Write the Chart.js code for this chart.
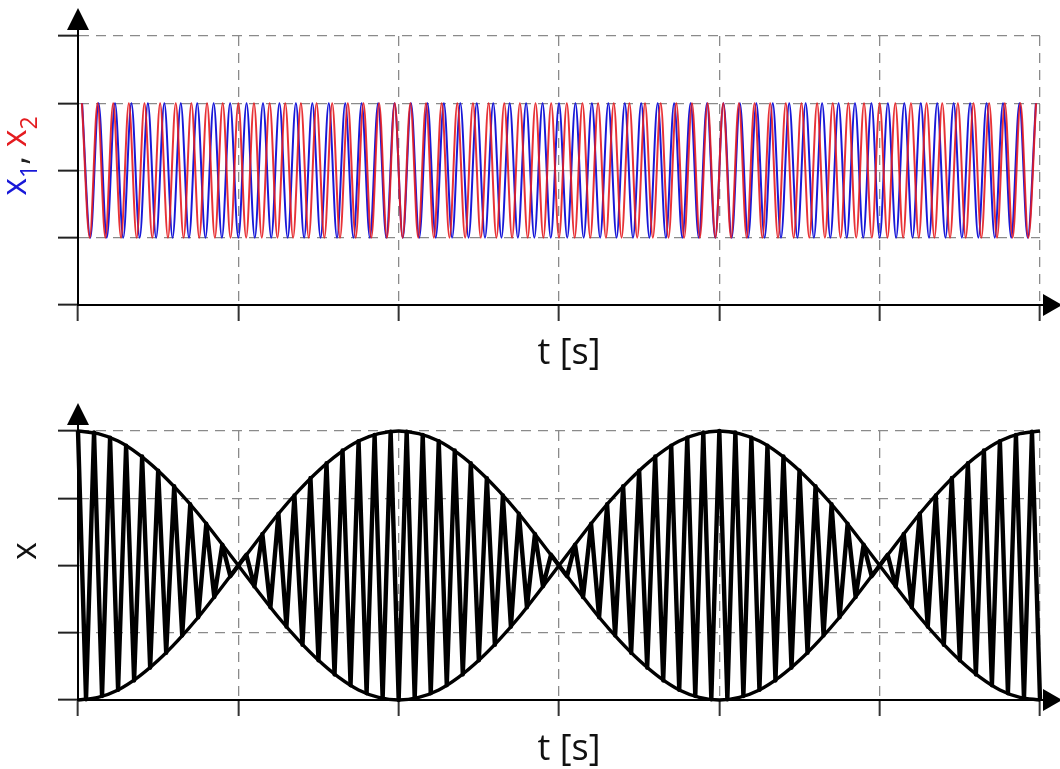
<!DOCTYPE html>
<html>
<head>
<meta charset="utf-8">
<script src="https://cdn.jsdelivr.net/npm/chart.js@4.4.1/dist/chart.umd.min.js"></script>
<style>
  html, body { margin: 0; padding: 0; background: #fff; }
  .panel { position: absolute; left: 0; width: 1060px; }
  #topPanel { top: 0; height: 385px; }
  #bottomPanel { top: 385px; height: 384px; }
</style>
</head>
<body>
<div class="panel" id="topPanel"><canvas id="sigChart"></canvas></div>
<div class="panel" id="bottomPanel"><canvas id="beatChart"></canvas></div>
<script>
// time axis and amplitude grid
const tRange = [0, 6];
const tTicks = [0, 1, 2, 3, 4, 5, 6];
const yTicks = [-2, -1, 0, 1, 2];

// x1 (blue): crest/trough values, one per half period, evenly spread over the time range
const x1Extrema = [
  1,-1,1,-1,1,-1,1,-1,1,-1,1,-1,1,-1,1,-1,1,-1,1,-1,
  1,-1,1,-1,1,-1,1,-1,1,-1,1,-1,1,-1,1,-1,1,-1,1,-1,
  1,-1,1,-1,1,-1,1,-1,1,-1,1,-1,1,-1,1,-1,1,-1,1,-1,
  1,-1,1,-1,1,-1,1,-1,1,-1,1,-1,1,-1,1,-1,1,-1,1,-1,
  1,-1,1,-1,1,-1,1,-1,1,-1,1,-1,1,-1,1,-1,1,-1,1,-1,
  1,-1,1,-1,1,-1,1,-1,1,-1,1,-1,1,-1,1,-1,1
];

// x2 (red): slightly higher frequency, a few more half periods
const x2Extrema = [
  1,-1,1,-1,1,-1,1,-1,1,-1,1,-1,1,-1,1,-1,1,-1,1,-1,
  1,-1,1,-1,1,-1,1,-1,1,-1,1,-1,1,-1,1,-1,1,-1,1,-1,
  1,-1,1,-1,1,-1,1,-1,1,-1,1,-1,1,-1,1,-1,1,-1,1,-1,
  1,-1,1,-1,1,-1,1,-1,1,-1,1,-1,1,-1,1,-1,1,-1,1,-1,
  1,-1,1,-1,1,-1,1,-1,1,-1,1,-1,1,-1,1,-1,1,-1,1,-1,
  1,-1,1,-1,1,-1,1,-1,1,-1,1,-1,1,-1,1,-1,1,-1,1,-1,
  1,-1,1
];

// x = x1 + x2: peaks every 0.05 s
const xSum = [
  2.00,-1.99,1.98,-1.94,1.90,-1.85,1.78,-1.71,1.62,-1.52,1.41,-1.30,1.18,-1.04,0.91,-0.77,0.62,-0.47,0.31,-0.16,0,
  0.16,-0.31,0.47,-0.62,0.77,-0.91,1.04,-1.18,1.30,-1.41,1.52,-1.62,1.71,-1.78,1.85,-1.90,1.94,-1.98,1.99,-2.00,
  1.99,-1.98,1.94,-1.90,1.85,-1.78,1.71,-1.62,1.52,-1.41,1.30,-1.18,1.04,-0.91,0.77,-0.62,0.47,-0.31,0.16,0,
  -0.16,0.31,-0.47,0.62,-0.77,0.91,-1.04,1.18,-1.30,1.41,-1.52,1.62,-1.71,1.78,-1.85,1.90,-1.94,1.98,-1.99,2.00,
  -1.99,1.98,-1.94,1.90,-1.85,1.78,-1.71,1.62,-1.52,1.41,-1.30,1.18,-1.04,0.91,-0.77,0.62,-0.47,0.31,-0.16,0,
  0.16,-0.31,0.47,-0.62,0.77,-0.91,1.04,-1.18,1.30,-1.41,1.52,-1.62,1.71,-1.78,1.85,-1.90,1.94,-1.98,1.99,-2.00
];

// beat envelope, every 0.125 s
const envUpper = [
  2.00,1.96,1.85,1.66,1.41,1.11,0.77,0.39,0,
  -0.39,-0.77,-1.11,-1.41,-1.66,-1.85,-1.96,-2.00,
  -1.96,-1.85,-1.66,-1.41,-1.11,-0.77,-0.39,0,
  0.39,0.77,1.11,1.41,1.66,1.85,1.96,2.00,
  1.96,1.85,1.66,1.41,1.11,0.77,0.39,0,
  -0.39,-0.77,-1.11,-1.41,-1.66,-1.85,-1.96,-2.00
];
const envLower = [
  -2.00,-1.96,-1.85,-1.66,-1.41,-1.11,-0.77,-0.39,0,
  0.39,0.77,1.11,1.41,1.66,1.85,1.96,2.00,
  1.96,1.85,1.66,1.41,1.11,0.77,0.39,0,
  -0.39,-0.77,-1.11,-1.41,-1.66,-1.85,-1.96,-2.00,
  -1.96,-1.85,-1.66,-1.41,-1.11,-0.77,-0.39,0,
  0.39,0.77,1.11,1.41,1.66,1.85,1.96,2.00
];

const BLUE = '#1818d8';
const RED = 'rgba(230, 28, 32, 0.9)';
const indexLabels = arr => arr.map((v, i) => i);

// axes, arrowheads and titles drawn on top of the chart
const axisDecor = {
  id: 'axisDecor',
  afterDraw(chart, args, opts) {
    const { ctx, chartArea: a } = chart;
    const x0 = chart.scales.x.getPixelForValue(tRange[0]);
    const yb = chart.scales.y.getPixelForValue(yTicks[0]);
    ctx.save();
    ctx.strokeStyle = '#000';
    ctx.fillStyle = '#000';
    ctx.lineWidth = 2;
    ctx.beginPath();
    ctx.moveTo(x0, a.top);
    ctx.lineTo(x0, a.top - 10);
    ctx.moveTo(a.right, yb);
    ctx.lineTo(a.right + 6, yb);
    ctx.stroke();

    ctx.beginPath();
    ctx.moveTo(x0, a.top - 28);
    ctx.lineTo(x0 - 11, a.top - 6);
    ctx.lineTo(x0 + 11, a.top - 6);
    ctx.closePath();
    ctx.fill();
    ctx.beginPath();
    ctx.moveTo(a.right + 22, yb);
    ctx.lineTo(a.right + 3, yb - 11);
    ctx.lineTo(a.right + 3, yb + 11);
    ctx.closePath();
    ctx.fill();

    ctx.font = '36px "Open Sans"';
    ctx.textAlign = 'center';
    ctx.textBaseline = 'middle';
    ctx.fillStyle = '#111';
    ctx.fillText('t [s]', opts.titleX, opts.titleY);

    // rotated y label, pieces may be subscripts
    ctx.translate(opts.labelX, opts.labelY);
    ctx.rotate(-Math.PI / 2);
    ctx.textAlign = 'left';
    ctx.textBaseline = 'alphabetic';
    const fontFor = p => (p.sub ? '23px' : '34px') + ' "Open Sans"';
    let total = 0;
    opts.label.forEach(p => { ctx.font = fontFor(p); total += ctx.measureText(p.text).width; });
    let cx = -total / 2;
    opts.label.forEach(p => {
      ctx.font = fontFor(p);
      ctx.fillStyle = p.color;
      ctx.fillText(p.text, cx, p.sub ? 11 : 0);
      cx += ctx.measureText(p.text).width;
    });
    ctx.restore();
  }
};

function gridScales(extra) {
  return Object.assign({
    x: {
      type: 'linear', position: 'bottom', min: tRange[0], max: tRange[1],
      afterBuildTicks: s => { s.ticks = tTicks.map(v => ({ value: v })); },
      ticks: { display: false },
      grid: { color: '#8a8a8a', lineWidth: 1.3, tickLength: 16, tickColor: '#333', tickWidth: 2 },
      border: { color: '#000', width: 2, dash: [10, 7] }
    },
    y: {
      type: 'linear', min: yTicks[0], max: yTicks[yTicks.length - 1],
      afterBuildTicks: s => { s.ticks = yTicks.map(v => ({ value: v })); },
      ticks: { display: false },
      grid: {
        color: c => (c.tick && c.tick.value === 0) ? '#a8a8a8' : '#8a8a8a',
        lineWidth: 1.3, tickLength: 20, tickColor: '#222', tickWidth: 2
      },
      border: { color: '#000', width: 2, dash: c => (c.tick && c.tick.value === 0) ? [] : [10, 7] }
    }
  }, extra);
}

const baseOptions = {
  responsive: true,
  maintainAspectRatio: false,
  animation: false,
  events: [],
  elements: { point: { radius: 0 } }
};

// x1 and x2
new Chart(document.getElementById('sigChart'), {
  type: 'line',
  data: {
    datasets: [
      { data: x2Extrema, xAxisID: 'xb', borderColor: RED, borderWidth: 2, cubicInterpolationMode: 'monotone' },
      { data: x1Extrema, xAxisID: 'xa', borderColor: BLUE, borderWidth: 2, cubicInterpolationMode: 'monotone' }
    ]
  },
  options: Object.assign({}, baseOptions, {
    layout: { padding: { top: 36, right: 20, bottom: 64, left: 58 } },
    plugins: {
      legend: { display: false }, tooltip: { enabled: false },
      axisDecor: {
        titleX: 569, titleY: 354, labelX: 26, labelY: 156,
        label: [
          { text: 'x', color: BLUE }, { text: '1', color: BLUE, sub: true },
          { text: ', ', color: '#222' },
          { text: 'x', color: '#e41c20' }, { text: '2', color: '#e41c20', sub: true }
        ]
      }
    },
    scales: gridScales({
      xa: { type: 'category', labels: indexLabels(x1Extrema), offset: true, display: false },
      xb: { type: 'category', labels: indexLabels(x2Extrema), offset: true, display: false }
    })
  }),
  plugins: [axisDecor]
});

// x = x1 + x2 with its envelope
new Chart(document.getElementById('beatChart'), {
  type: 'line',
  data: {
    datasets: [
      { data: envUpper, xAxisID: 'xe', borderColor: '#000', borderWidth: 3.4, cubicInterpolationMode: 'monotone', clip: false },
      { data: envLower, xAxisID: 'xe', borderColor: '#000', borderWidth: 3.4, cubicInterpolationMode: 'monotone', clip: false },
      { data: xSum, xAxisID: 'xs', borderColor: '#000', borderWidth: 4.4, tension: 0, borderJoinStyle: 'round', clip: false }
    ]
  },
  options: Object.assign({}, baseOptions, {
    layout: { padding: { top: 46, right: 20, bottom: 53, left: 58 } },
    plugins: {
      legend: { display: false }, tooltip: { enabled: false },
      axisDecor: {
        titleX: 569, titleY: 365, labelX: 36, labelY: 166,
        label: [{ text: 'x', color: '#111' }]
      }
    },
    scales: gridScales({
      xs: { type: 'category', labels: indexLabels(xSum), offset: false, display: false },
      xe: { type: 'category', labels: indexLabels(envUpper), offset: false, display: false }
    })
  }),
  plugins: [axisDecor]
});
</script>
</body>
</html>
